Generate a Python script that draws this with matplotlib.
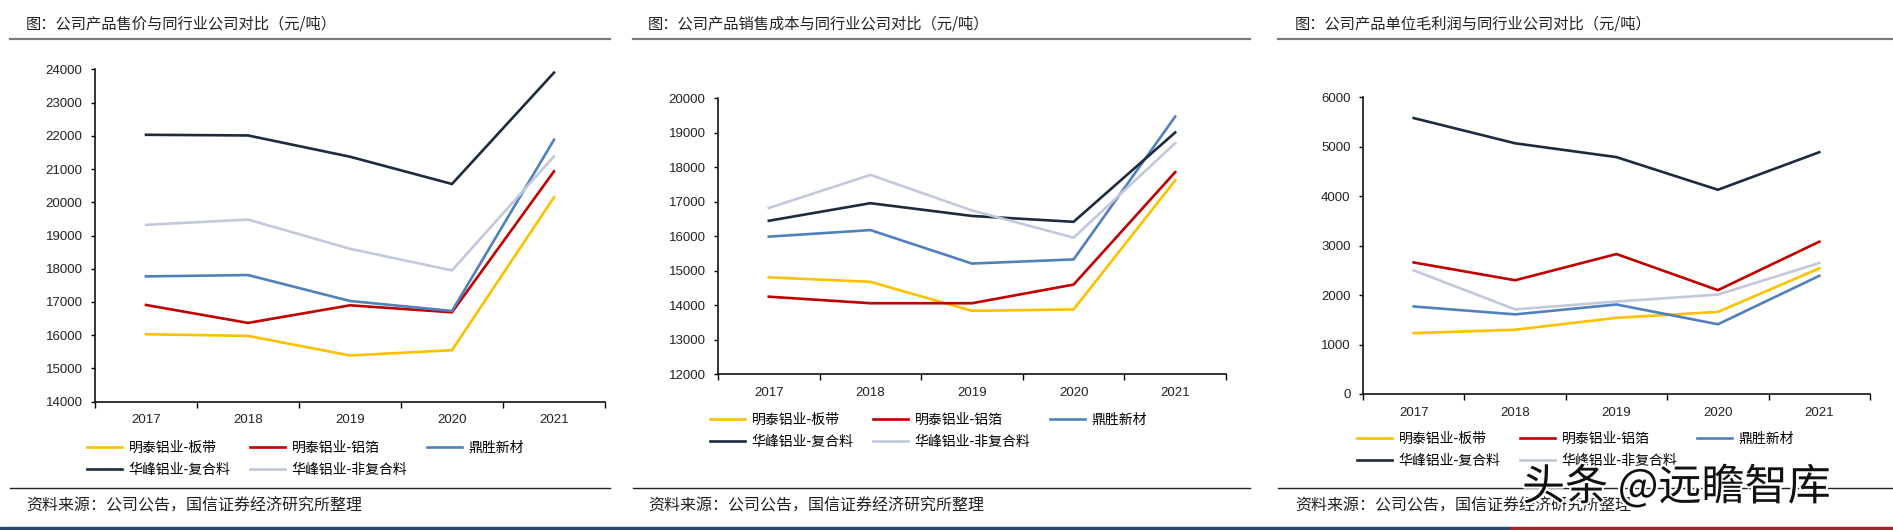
import matplotlib
matplotlib.use('Agg')
import matplotlib.pyplot as plt
import matplotlib.patheffects as pe
import numpy as np
from matplotlib.lines import Line2D
from matplotlib.patches import Rectangle

plt.rcParams['font.family'] = ['Noto Sans CJK SC', 'DejaVu Sans']

years = ['2017', '2018', '2019', '2020', '2021']
series_names = ['明泰铝业-板带', '明泰铝业-铝箔', '鼎胜新材', '华峰铝业-复合料', '华峰铝业-非复合料']
series_colors = ['#FFC000', '#C00000', '#5081BD', '#1C2B3E', '#C3C9DC']

# selling price (yuan/ton)
price_mt_strip = [16030, 15980, 15390, 15550, 20150]
price_mt_foil = [16910, 16370, 16900, 16690, 20930]
price_dingsheng = [17770, 17810, 17030, 16730, 21880]
price_hf_comp = [22030, 22010, 21370, 20550, 23900]
price_hf_noncomp = [19320, 19480, 18600, 17950, 21380]

# cost of sales (yuan/ton)
cost_mt_strip = [14810, 14680, 13840, 13880, 17620]
cost_mt_foil = [14250, 14060, 14060, 14600, 17860]
cost_dingsheng = [15990, 16180, 15210, 15330, 19470]
cost_hf_comp = [16450, 16960, 16590, 16420, 19010]
cost_hf_noncomp = [16820, 17780, 16750, 15960, 18700]

# gross profit per ton (yuan/ton)
gp_mt_strip = [1230, 1300, 1540, 1660, 2540]
gp_mt_foil = [2660, 2300, 2830, 2100, 3080]
gp_dingsheng = [1770, 1610, 1810, 1410, 2390]
gp_hf_comp = [5580, 5070, 4790, 4130, 4890]
gp_hf_noncomp = [2500, 1710, 1870, 2010, 2650]

W, H = 1893, 530
fig = plt.figure(figsize=(W / 100, H / 100), dpi=100)


def fx(x):
    return x / W


def fy(y):
    return 1 - y / H


panels = [
    dict(title='图：公司产品售价与同行业公司对比（元/吨）',
         series=[price_mt_strip, price_mt_foil, price_dingsheng, price_hf_comp, price_hf_noncomp],
         box=(95, 605, 69.3, 401.7), ylim=(14000, 24000), step=1000,
         rule=(10, 610), text_x=26, leg=(87, 441)),
    dict(title='图：公司产品销售成本与同行业公司对比（元/吨）',
         series=[cost_mt_strip, cost_mt_foil, cost_dingsheng, cost_hf_comp, cost_hf_noncomp],
         box=(718, 1226, 98.3, 374.3), ylim=(12000, 20000), step=1000,
         rule=(633, 1250), text_x=648, leg=(710, 413)),
    dict(title='图：公司产品单位毛利润与同行业公司对比（元/吨）',
         series=[gp_mt_strip, gp_mt_foil, gp_dingsheng, gp_hf_comp, gp_hf_noncomp],
         box=(1363, 1870, 97.3, 394), ylim=(0, 6000), step=1000,
         rule=(1278, 1893), text_x=1295, leg=(1357, 432)),
]

for p in panels:
    l, r, t, b = p['box']
    ax = fig.add_axes([fx(l), fy(b), (r - l) / W, (b - t) / H])
    x = np.arange(len(years))
    lines = []
    for vals, name, c in zip(p['series'], series_names, series_colors):
        ln, = ax.plot(x, vals, color=c, lw=1.9, label=name, solid_joinstyle='miter')
        lines.append(ln)
    ax.set_xlim(-0.5, len(years) - 0.5)
    ax.set_ylim(*p['ylim'])
    ax.set_yticks(np.arange(p['ylim'][0], p['ylim'][1] + 1, p['step']))
    ax.set_xticks(np.arange(-0.5, len(years), 1))
    ax.set_xticklabels([])
    ax.set_xticks(x, minor=True)
    ax.set_xticklabels(years, minor=True)
    ax.tick_params(axis='x', which='major', direction='out', length=4, width=1)
    ax.tick_params(axis='x', which='minor', length=0, pad=9)
    ax.tick_params(axis='y', direction='out', length=3, width=1, pad=6)
    for lab in ax.get_xticklabels(minor=True) + ax.get_yticklabels():
        lab.set_fontfamily('Liberation Sans')
        lab.set_fontsize(9.5)
        lab.set_color('#222222')
    for s in ['top', 'right']:
        ax.spines[s].set_visible(False)
    for s in ['left', 'bottom']:
        ax.spines[s].set_linewidth(1.2)
        ax.spines[s].set_color('#111111')

    order = [0, 3, 1, 4, 2]
    lx, ly = p['leg']
    ax.legend([lines[i] for i in order], [series_names[i] for i in order],
              loc='upper left', bbox_to_anchor=(fx(lx), fy(ly)),
              bbox_transform=fig.transFigure, ncol=3, frameon=False,
              fontsize=10, handlelength=2.5, handletextpad=0.5,
              columnspacing=1.4, borderpad=0, borderaxespad=0, labelspacing=0.55)

    # header / footer decoration
    r0, r1 = p['rule']
    fig.add_artist(Line2D([fx(r0), fx(r1)], [fy(39), fy(39)], color='#7a7a7a', lw=1.6))
    fig.add_artist(Line2D([fx(r0), fx(r1)], [fy(488), fy(488)], color='#222222', lw=1.0))
    fig.text(fx(p['text_x']), fy(24), p['title'], fontsize=11, va='center', color='#222222')
    fig.text(fx(p['text_x']), fy(506), '资料来源：公司公告，国信证券经济研究所整理',
             fontsize=11.5, va='center', color='#222222')

# bottom colour strip
fig.add_artist(Rectangle((0, 0), fx(1510), 3 / H, transform=fig.transFigure, color='#24486E'))
fig.add_artist(Rectangle((fx(1510), 0), fx(W - 1510), 3 / H, transform=fig.transFigure, color='#A0262A'))

# watermark
fig.text(fx(1522), fy(488), '头条 @远瞻智库', fontsize=31, va='center', color='#111111',
         path_effects=[pe.withStroke(linewidth=3, foreground='white')])

fig.savefig('out.png', dpi=100)
